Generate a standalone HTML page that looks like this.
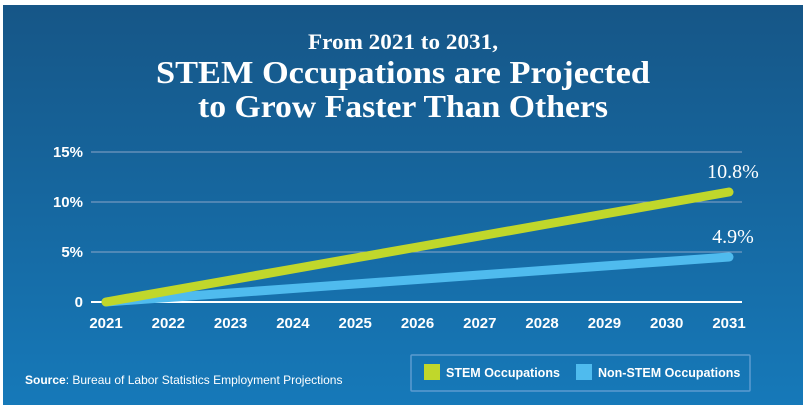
<!DOCTYPE html>
<html><head><meta charset="utf-8"><style>
html,body{margin:0;padding:0;background:#fff;width:807px;height:409px;overflow:hidden}
svg{display:block}
text{font-family:"Liberation Sans",sans-serif}
svg text.serif{font-family:"Liberation Serif",serif}
</style></head><body>
<svg width="807" height="409" viewBox="0 0 807 409">
<defs><linearGradient id="bg" x1="0" y1="0" x2="0" y2="1">
<stop offset="0" stop-color="#165687"/><stop offset="1" stop-color="#1679b9"/></linearGradient></defs>
<rect x="3" y="5" width="800" height="400" fill="url(#bg)"/>
<g fill="#fff" font-weight="bold" text-anchor="middle">
<text class="serif" x="403" y="49" font-size="22" textLength="190" lengthAdjust="spacingAndGlyphs">From 2021 to 2031,</text>
<text class="serif" x="403" y="83" font-size="32" textLength="494" lengthAdjust="spacingAndGlyphs">STEM Occupations are Projected</text>
<text class="serif" x="403" y="117" font-size="32" textLength="410" lengthAdjust="spacingAndGlyphs">to Grow Faster Than Others</text>
</g>
<g id="grid"></g><g id="lines"></g><g id="labels"></g>
<text x="25" y="384" font-size="12" fill="#fff"><tspan font-weight="bold">Source</tspan>: Bureau of Labor Statistics Employment Projections</text>
<g>
<rect x="411" y="355" width="339" height="36" fill="none" stroke="#5b9bd0" stroke-width="1.5" rx="1"/>
<rect x="424" y="364" width="16" height="16" fill="#c0d72b"/>
<text x="446" y="377" font-size="12.5" font-weight="bold" fill="#fff">STEM Occupations</text>
<rect x="576" y="364" width="16" height="16" fill="#4fbbee"/>
<text x="598" y="377" font-size="12.5" font-weight="bold" fill="#fff">Non-STEM Occupations</text>
</g>
</svg>
<script>
const years=["2021","2022","2023","2024","2025","2026","2027","2028","2029","2030","2031"];
const stem=[0,1.1,2.2,3.3,4.4,5.5,6.6,7.7,8.8,9.9,11.0];
const nonStem=[0,0.45,0.9,1.35,1.8,2.25,2.7,3.15,3.6,4.05,4.5];
const yTicks=[0,5,10,15];
const yTickLabels=["0","5%","10%","15%"];
const endLabels=["10.8%","4.9%"];
const NS="http://www.w3.org/2000/svg";
const x=i=>106+i*62.3;
const y=v=>302-v*10;
function mk(t,a,p){const e=document.createElementNS(NS,t);for(const k in a)e.setAttribute(k,a[k]);p.appendChild(e);return e;}
const grid=document.getElementById('grid'),lines=document.getElementById('lines'),labels=document.getElementById('labels');
yTicks.forEach((v,i)=>{
 const l=mk('line',{x1:91,x2:742,y1:y(v),y2:y(v),stroke:v===0?'#fff':'#8aa6c8','stroke-width':v===0?2:1},grid);
 
 
 const t=mk('text',{x:83,y:y(v)+5,'font-size':15,'font-weight':'bold',fill:'#fff','text-anchor':'end'},grid);
 t.textContent=yTickLabels[i];
 
 
});
years.forEach((yr,i)=>{
 const t=mk('text',{x:x(i),y:328,'font-size':15,'font-weight':'bold',fill:'#fff','text-anchor':'middle'},grid);
 t.textContent=yr;
 
 
});
function line(vals,color,name){
 const p=mk('polyline',{points:vals.map((v,i)=>x(i)+','+y(v)).join(' '),fill:'none',stroke:color,'stroke-width':9,'stroke-linecap':'round','stroke-linejoin':'round'},lines);
 
 
}
line(nonStem,'#4fbbee','non-stem-line');
line(stem,'#c0d72b','stem-line');
[[stem,'stem-end-label'],[nonStem,'non-stem-end-label']].forEach(([vals,n],k)=>{
 const t=mk('text',{x:x(vals.length-1)+4,y:y(vals[vals.length-1])-14,'font-size':20,fill:'#fff','text-anchor':'middle','class':'serif'},labels);
 t.textContent=endLabels[k];
 
 
});
</script>
</body></html>
